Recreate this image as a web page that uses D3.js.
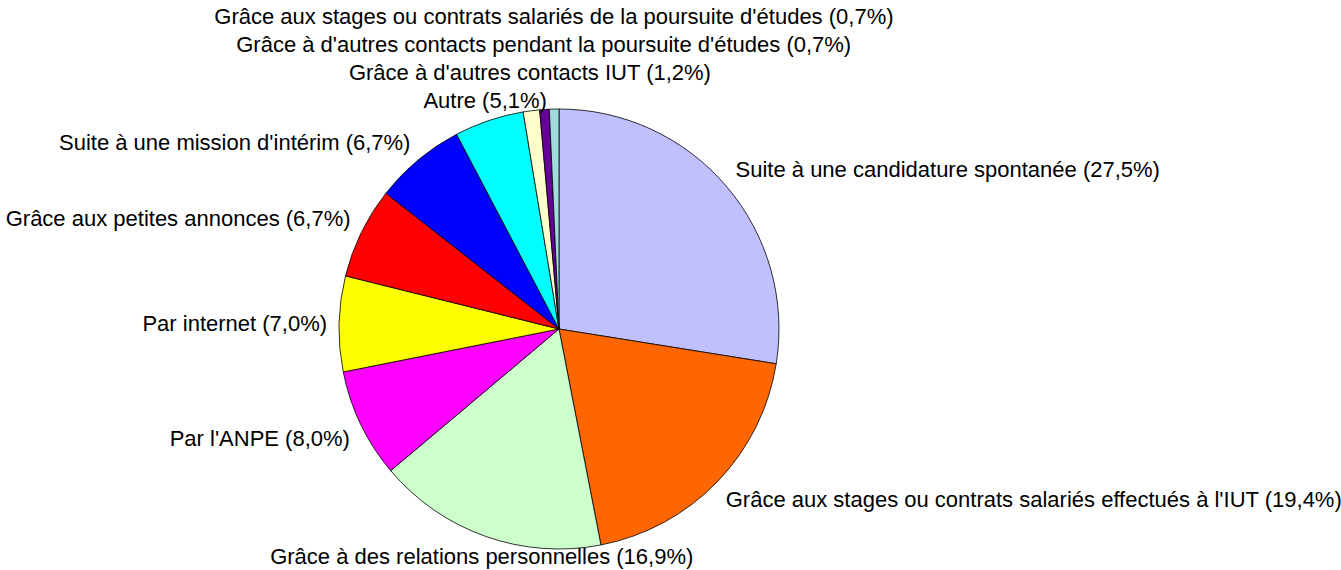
<!DOCTYPE html>
<html>
<head>
<meta charset="utf-8">
<script src="https://cdn.jsdelivr.net/npm/d3@7"></script>
<style>
  body { margin: 0; background: #fff; }
  text { font-family: "Liberation Sans", Arial, sans-serif; font-size: 22px; fill: #000; }
</style>
</head>
<body>
<svg width="1341" height="570"></svg>
<script>
// categories, clockwise from 12 o'clock
const categories = [
  "Suite à une candidature spontanée",
  "Grâce aux stages ou contrats salariés effectués à l'IUT",
  "Grâce à des relations personnelles",
  "Par l'ANPE",
  "Par internet",
  "Grâce aux petites annonces",
  "Suite à une mission d'intérim",
  "Autre",
  "Grâce à d'autres contacts IUT",
  "Grâce à d'autres contacts pendant la poursuite d'études",
  "Grâce aux stages ou contrats salariés de la poursuite d'études"
];
const values = [27.5, 19.4, 16.9, 8.0, 7.0, 6.7, 6.7, 5.1, 1.2, 0.7, 0.7];
const colors = ["#C0C0FF", "#FF6600", "#CCFFCC", "#FF00FF", "#FFFF00", "#FF0000",
                "#0000FF", "#00FFFF", "#FFFFCC", "#660099", "#A0DCDC"];

const WIDTH = 1341, HEIGHT = 570;
const cx = 559, cy = 329, radius = 220;
const lineH = 28;

const svg = d3.select('svg');
const data = categories.map((c, i) => ({ name: c, value: values[i], color: colors[i] }));

const pie = d3.pie().sort(null).value(d => d.value);
const arc = d3.arc().innerRadius(0).outerRadius(radius);
const arcs = pie(data);

const g = svg.append('g').attr('transform', 'translate(' + cx + ',' + cy + ')');

g.selectAll('path')
  .data(arcs)
  .enter()
  .append('path')
  .attr('d', arc)
  .attr('fill', d => d.data.color)
  .attr('stroke', '#000')
  .attr('stroke-width', 0.8);

// label placement, excel-ish: anchor beside the slice, stack the crowded ones at the top
const fmt = v => v.toFixed(1).replace('.', ',');
const labelR = radius + 12;
let prevBottom = null;
arcs.forEach(function (d, i) {
  const a = (d.startAngle + d.endAngle) / 2;
  const s = Math.sin(a), c = Math.cos(a);
  let px = labelR * s, py = -labelR * c;
  let anchor = Math.abs(s) < 0.5 ? 'middle' : (s > 0 ? 'start' : 'end');
  // vertical center of the label box
  let mid;
  if (c > 0.3) mid = py - lineH / 2 + 5;
  else if (c < -0.3) mid = py + lineH / 2 - 5;
  else mid = py;
  // top labels pile up
  if (c > 0.3 && s < 0) {
    if (prevBottom !== null && mid > prevBottom - lineH) mid = prevBottom - lineH;
    prevBottom = mid;
  }
  g.append('text')
    .attr('x', px)
    .attr('y', mid)
    .attr('dy', '0.35em')
    .attr('text-anchor', anchor)
    .text(d.data.name + ' (' + fmt(d.data.value) + '%)');
});
</script>
</body>
</html>
